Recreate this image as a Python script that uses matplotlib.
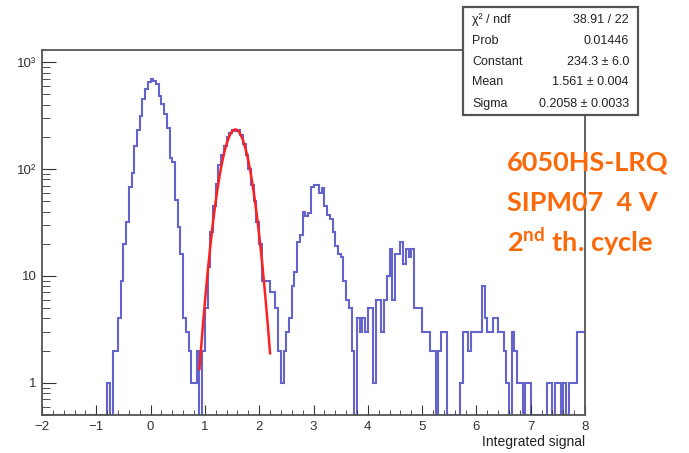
import numpy as np
import matplotlib.pyplot as plt
from matplotlib.patches import Rectangle
from matplotlib.ticker import FixedLocator, MultipleLocator, LogLocator, NullFormatter

plt.rcParams['font.family'] = ['Liberation Sans', 'DejaVu Sans']
plt.rcParams['mathtext.fontset'] = 'custom'
plt.rcParams['mathtext.rm'] = 'Lato'
plt.rcParams['mathtext.bf'] = 'Lato:bold'

# histogram: 200 bins from -2 to 8
x_min, x_max, n_bins = -2.0, 8.0, 200
counts = ([0] * 24 + [1, 0, 2, 2, 4, 9, 20, 32, 68, 92, 166, 230, 316, 455, 560, 650, 690, 660, 620, 484,
          405, 330, 240, 126, 117, 51, 29, 16, 4, 3, 2, 1, 1, 2, 0,
          2, 5, 12, 26, 45, 73, 110, 135, 165, 200, 218, 232, 228, 232, 210, 170, 134, 100, 71, 50,
          32, 20, 9, 9, 9, 7, 7, 5, 2, 1, 2, 3, 4, 8, 11, 21, 24, 40, 36, 39,
          68, 71, 71, 60, 67, 45, 37, 34, 26, 19, 16, 15, 9, 6, 5, 2, 0, 4, 3, 4,
          3, 5, 5, 1, 6, 6, 3, 6, 10, 18, 6, 16, 16, 21, 13, 18, 15, 18, 5, 5,
          5, 3, 3, 3, 2, 2, 0, 2, 3, 3, 0, 0, 0, 0, 0, 1, 3, 3, 2, 3,
          3, 3, 3, 8, 4, 3, 3, 4, 4, 3, 3, 2, 1, 0, 3, 2, 1, 1, 0, 1,
          1, 0, 0, 0, 0, 0, 0, 1, 1, 0, 1, 1, 0, 1, 0, 1, 1, 1, 3, 3, 3])
assert len(counts) == n_bins

# gaussian fit
fit_const, fit_mean, fit_sigma = 234.3, 1.561, 0.2058
fit_lo, fit_hi = 0.9, 2.2

stat_names = ['χ² / ndf', 'Prob', 'Constant', 'Mean', 'Sigma']
stat_values = ['38.91 / 22', '0.01446', '234.3 ± 6.0', '1.561 ± 0.004', '0.2058 ± 0.0033']

W, H = 689, 453
fig = plt.figure(figsize=(W / 100, H / 100), dpi=100)
ax = fig.add_axes([42 / W, 1 - 415 / H, (585 - 42) / W, (415 - 50) / H])

y_floor = 0.5
edges = np.linspace(x_min, x_max, n_bins + 1)
vals = np.array(counts, dtype=float)
vals = np.where(vals > 0, vals, y_floor)
ax.stairs(vals, edges, baseline=None, color='#6464cc', lw=1.5)

xf = np.linspace(fit_lo, fit_hi, 300)
yf = fit_const * np.exp(-0.5 * ((xf - fit_mean) / fit_sigma) ** 2)
ax.plot(xf, yf, color='#ff2020', lw=1.8)

ax.set_yscale('log')
ax.set_xlim(x_min, x_max)
ax.set_ylim(y_floor, 1300)

ax.xaxis.set_major_locator(MultipleLocator(1))
ax.xaxis.set_minor_locator(MultipleLocator(0.2))
ax.yaxis.set_major_locator(FixedLocator([1, 10, 100, 1000]))
ax.yaxis.set_minor_locator(LogLocator(base=10, subs=np.arange(2, 10)))
ax.yaxis.set_minor_formatter(NullFormatter())
ax.set_yticklabels(['1', '10', '10²', '10³'])

ax.tick_params(axis='both', which='both', direction='in', top=False, right=False,
               colors='#333333', labelsize=9.5)
ax.tick_params(axis='x', which='major', length=7, pad=4)
ax.tick_params(axis='x', which='minor', length=3.5)
ax.tick_params(axis='y', which='major', length=10, pad=4)
ax.tick_params(axis='y', which='minor', length=5.5)
for sp in ax.spines.values():
    sp.set_color('#555555')
    sp.set_linewidth(1.3)

fig.text(585 / W, 1 - 442 / H, 'Integrated signal', ha='right', va='center',
         fontsize=10, color='#222222')

# stats box
bx0, bx1, by0, by1 = 463, 638, 7, 115
fig.add_artist(Rectangle((bx0 / W, 1 - by1 / H), (bx1 - bx0) / W, (by1 - by0) / H,
                         transform=fig.transFigure, facecolor='white',
                         edgecolor='#555555', lw=1.6, zorder=5))
row_y = [20, 40.7, 61.7, 82.3, 104]
for name, val, ry in zip(stat_names, stat_values, row_y):
    fig.text(472 / W, 1 - ry / H, name, ha='left', va='center', fontsize=9,
             color='#222222', zorder=6)
    fig.text(629 / W, 1 - ry / H, val, ha='right', va='center', fontsize=9,
             color='#222222', zorder=6)

# label
orange = '#fa6a0a'
info = ['6050HS-LRQ', 'SIPM07  4 V', '2$^{\\mathbf{nd}}$ th. cycle']
for txt, ly in zip(info, [163, 203, 242]):
    fig.text(507 / W, 1 - ly / H, txt, ha='left', va='center', fontsize=19.5,
             fontweight='bold', family='Lato', color=orange)

fig.savefig('out.png', dpi=100)
